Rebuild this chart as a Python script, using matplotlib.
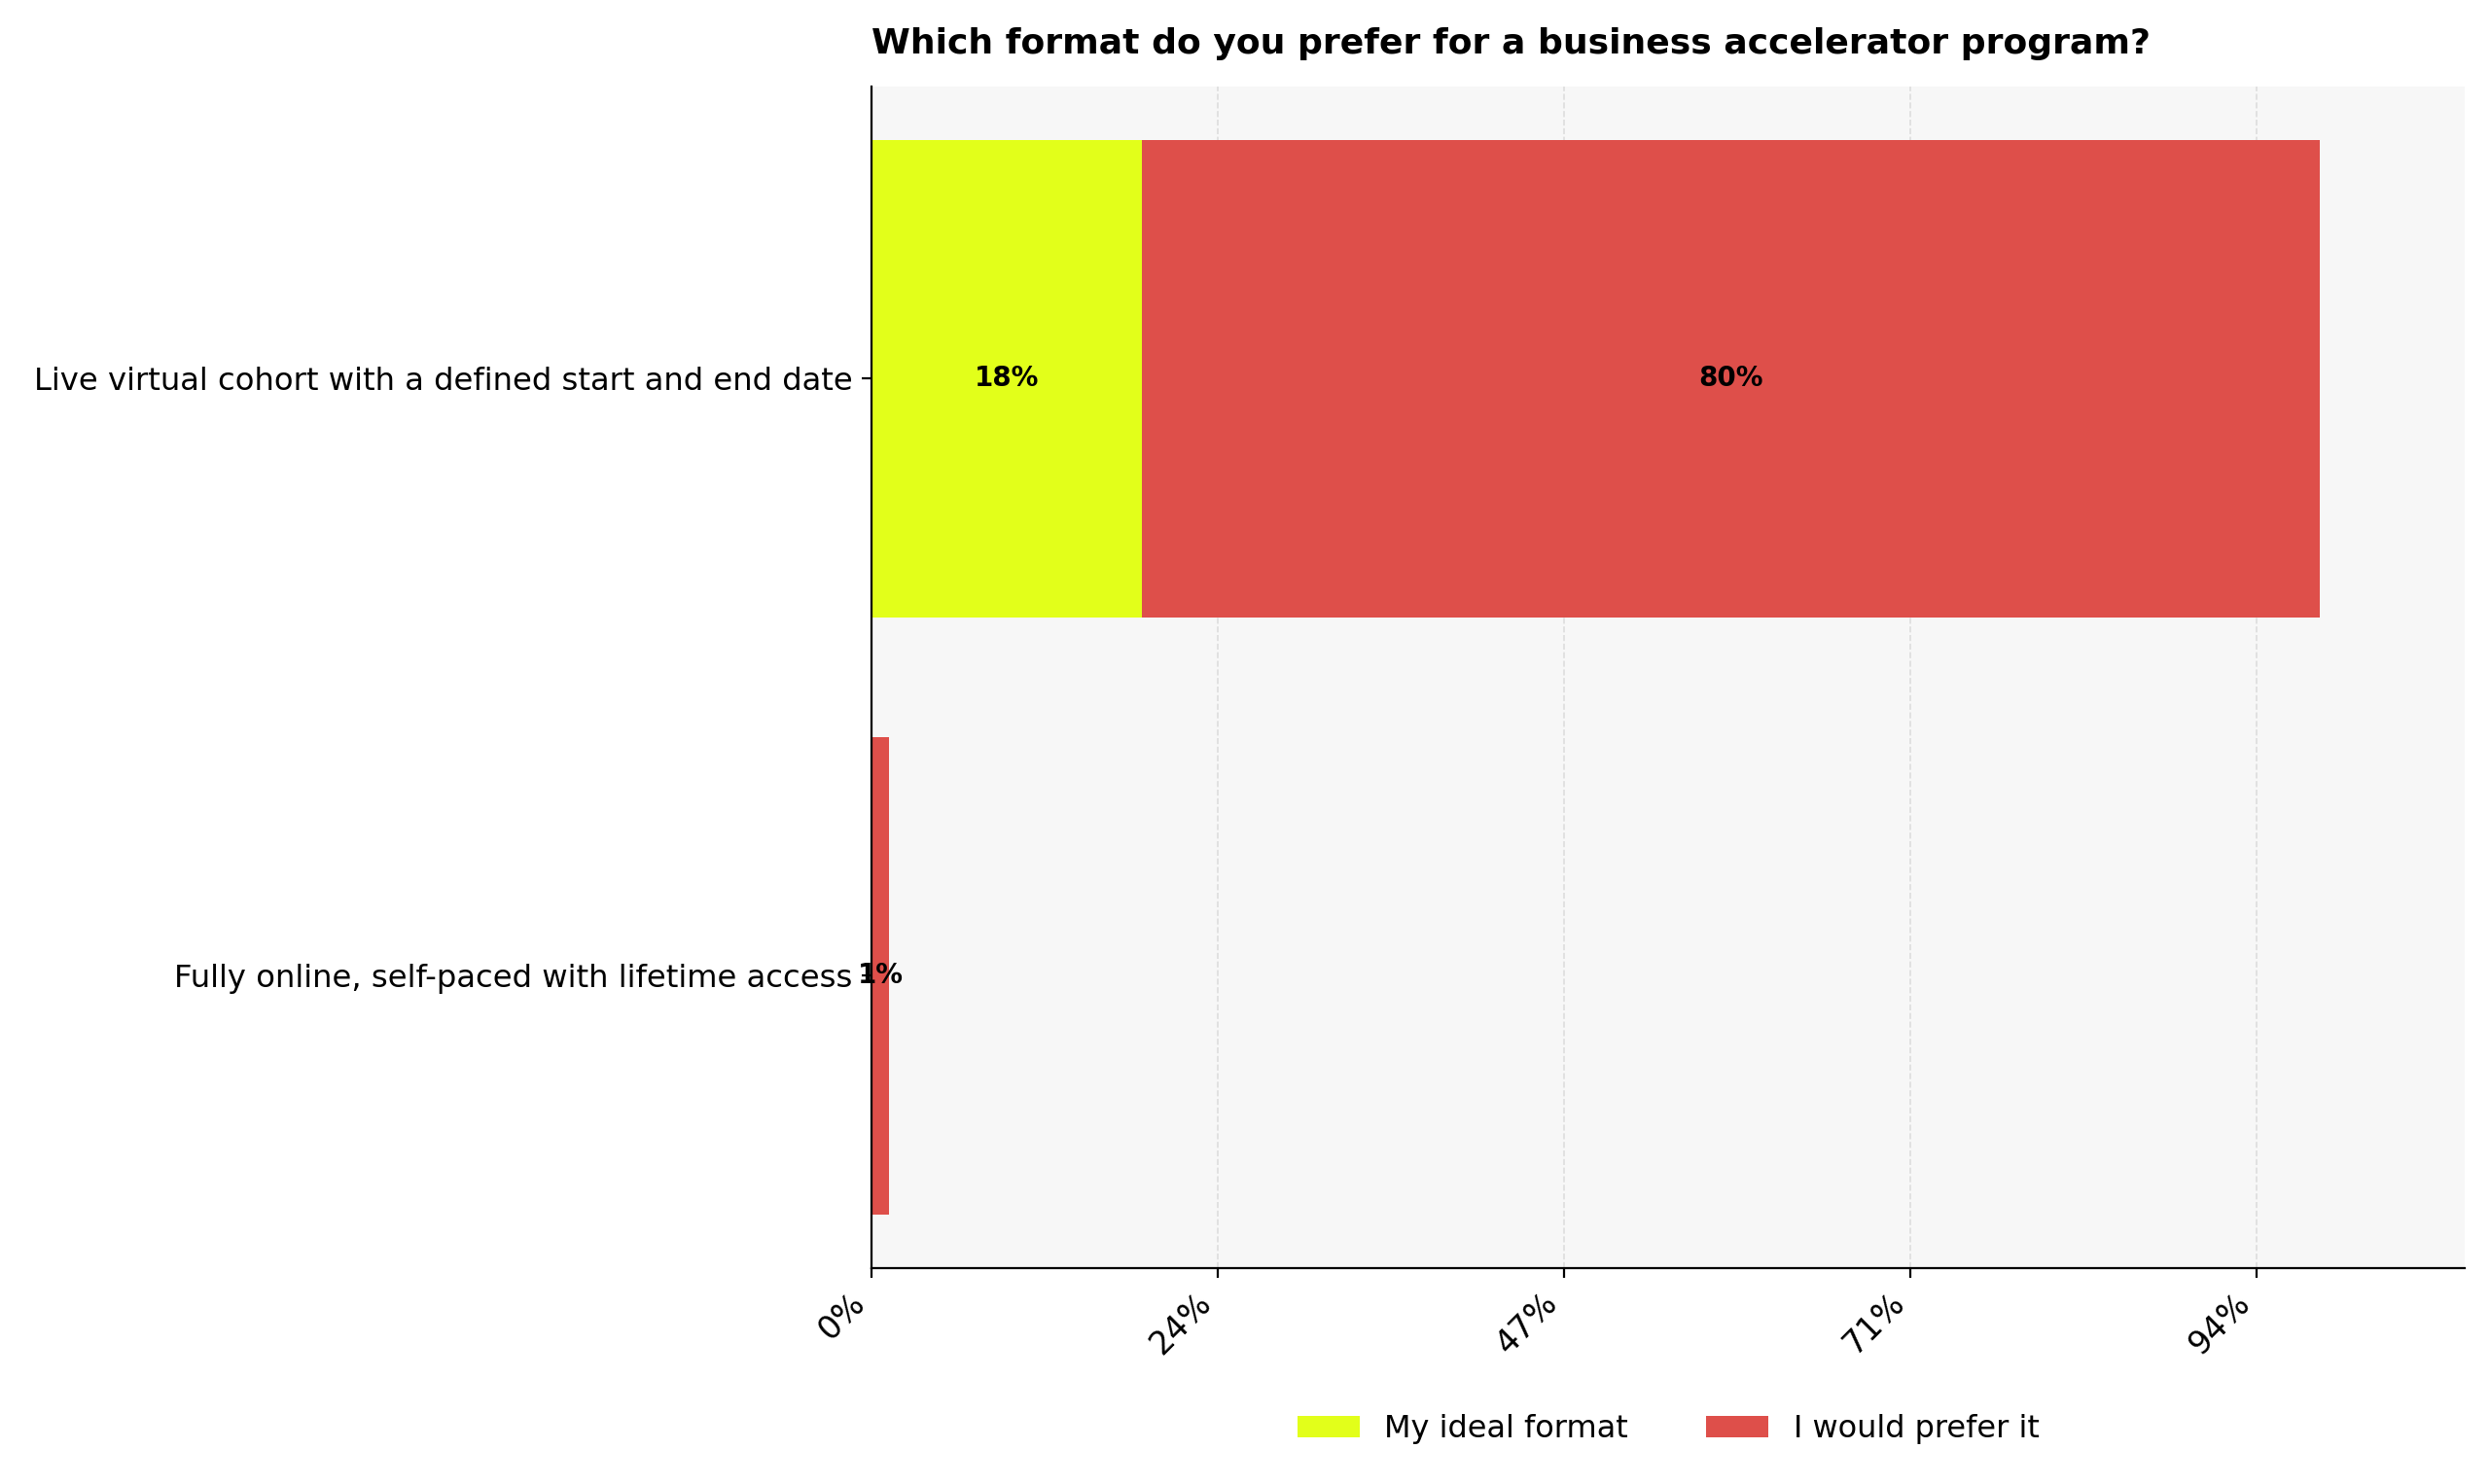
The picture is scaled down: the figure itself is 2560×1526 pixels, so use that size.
import matplotlib
matplotlib.use("Agg")
import matplotlib.pyplot as plt
import numpy as np

# survey answers (percent of respondents)
categories = ["Fully online, self-paced with lifetime access",
              "Live virtual cohort with a defined start and end date"]
series_names = ["My ideal format", "I would prefer it"]
ideal = [0.0, 18.4]
prefer = [1.2, 80.1]
tick_vals = [0, 23.55, 47.1, 70.65, 94.2]
tick_labels = ["0%", "24%", "47%", "71%", "94%"]

colors = ["#e2ff1a", "#de4f4a"]

fig = plt.figure(figsize=(12.8, 7.63), dpi=200)
ax = fig.add_axes([0.35, 0.1455, 0.64, 0.7965])
ax.set_facecolor("#f7f7f7")

y = np.arange(len(categories))
left = np.zeros(len(categories))
for name, vals, c in zip(series_names, [ideal, prefer], colors):
    vals = np.array(vals)
    bars = ax.barh(y, vals, left=left, height=0.8, color=c, label=name)
    for b, v in zip(bars, vals):
        if v > 0:
            ax.text(b.get_x() + b.get_width() / 2, b.get_y() + b.get_height() / 2,
                    "%.0f%%" % v, ha="center", va="center",
                    fontsize=10, fontweight="bold", color="black")
    left = left + vals

ax.set_xlim(0, left.max() * 1.1)
ax.set_yticks(y)
ax.set_yticklabels(categories, fontsize=11.6)
ax.set_xticks(tick_vals)
ax.set_xticklabels(tick_labels, rotation=45, ha="right", fontsize=12)

ax.grid(axis="x", linestyle="--", color="#dddddd", linewidth=0.6)
ax.set_axisbelow(True)
ax.spines["top"].set_visible(False)
ax.spines["right"].set_visible(False)

ax.set_title("Which format do you prefer for a business accelerator program?",
             loc="left", fontsize=13, fontweight="bold", pad=12)

fig.legend(loc="center", bbox_to_anchor=(0.35 + 0.64 / 2, 0.037), ncol=2,
           frameon=False, fontsize=11.5, columnspacing=2.5)

fig.savefig("out.png", dpi=200)
